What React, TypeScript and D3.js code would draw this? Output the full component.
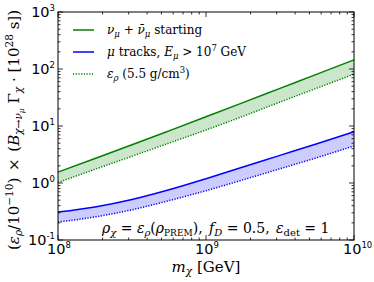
import React from "react";
import * as d3 from "d3";

const masses = [1e8, 1.778e8, 3.162e8, 5.623e8, 1e9, 1.778e9, 3.162e9, 5.623e9, 1e10];
const greenSolid = [1.55, 2.69, 4.68, 8.22, 14.5, 25.7, 45.7, 81.3, 144.5];
const greenDotted = [1.02, 1.74, 2.95, 5.01, 8.51, 14.8, 26.3, 46.2, 81.3];
const blueSolid = [0.309, 0.38, 0.513, 0.759, 1.189, 1.905, 3.055, 4.898, 7.943];
const blueDotted = [0.2065, 0.254, 0.339, 0.49, 0.733, 1.135, 1.778, 2.786, 4.467];
const xTickExps = [8, 9, 10];
const yTickExps = [-1, 0, 1, 2, 3];

const W = 374, H = 282;
const L = 58, R = 354, T = 12, B = 240;
const SERIF = "DejaVu Serif";
const SANS = "DejaVu Sans";
const GREEN = "#008000";
const BLUE = "#0000ff";

export default function App() {
  const x = d3.scaleLog().domain([1e8, 1e10]).range([L, R]);
  const y = d3.scaleLog().domain([0.1, 1000]).range([B, T]);

  const line = (vals: number[]) =>
    d3.line<number>().x((_, i) => x(masses[i])).y((v) => y(v)).curve(d3.curveMonotoneX)(vals) || "";
  const area = (hi: number[], lo: number[]) =>
    d3
      .area<number>()
      .x((_, i) => x(masses[i]))
      .y0((_, i) => y(lo[i]))
      .y1((v) => y(v))
      .curve(d3.curveMonotoneX)(hi) || "";

  const xMinor: number[] = [];
  for (let e = 8; e < 10; e++) for (let k = 2; k <= 9; k++) xMinor.push(k * Math.pow(10, e));
  const yMinor: number[] = [];
  for (let e = -1; e < 3; e++) for (let k = 2; k <= 9; k++) yMinor.push(k * Math.pow(10, e));

  const maj = 5, mnr = 2.5;

  return (
    <svg width={W} height={H} style={{ position: "absolute", left: 0, top: 0, background: "#fff" }}>
      <rect x={0} y={0} width={W} height={H} fill="#fff" />
      {/* bands */}
      <path d={area(greenSolid, greenDotted)} fill="rgba(0,128,0,0.2)" stroke="none" />
      <path d={area(blueSolid, blueDotted)} fill="rgba(0,0,255,0.2)" stroke="none" />
      <path d={line(greenSolid)} fill="none" stroke={GREEN} strokeWidth={1.5} />
      <path d={line(greenDotted)} fill="none" stroke={GREEN} strokeWidth={1.5} strokeDasharray="1.2,1.5" />
      <path d={line(blueSolid)} fill="none" stroke={BLUE} strokeWidth={1.5} />
      <path d={line(blueDotted)} fill="none" stroke={BLUE} strokeWidth={1.5} strokeDasharray="1.2,1.5" />

      {/* ticks */}
      <g stroke="#000" strokeWidth={0.8}>
        {xTickExps.map((e) => {
          const xx = x(Math.pow(10, e));
          return (
            <g key={"xt" + e}>
              <line x1={xx} x2={xx} y1={B} y2={B - maj} />
              <line x1={xx} x2={xx} y1={T} y2={T + maj} />
            </g>
          );
        })}
        {xMinor.map((v) => (
          <g key={"xm" + v}>
            <line x1={x(v)} x2={x(v)} y1={B} y2={B - mnr} />
            <line x1={x(v)} x2={x(v)} y1={T} y2={T + mnr} />
          </g>
        ))}
        {yTickExps.map((e) => {
          const yy = y(Math.pow(10, e));
          return (
            <g key={"yt" + e}>
              <line x1={L} x2={L + maj} y1={yy} y2={yy} />
              <line x1={R} x2={R - maj} y1={yy} y2={yy} />
            </g>
          );
        })}
        {yMinor.map((v) => (
          <g key={"ym" + v}>
            <line x1={L} x2={L + mnr} y1={y(v)} y2={y(v)} />
            <line x1={R} x2={R - mnr} y1={y(v)} y2={y(v)} />
          </g>
        ))}
      </g>
      <rect x={L} y={T} width={R - L} height={B - T} fill="none" stroke="#000" strokeWidth={1} />

      {/* tick labels */}
      <g fontFamily={SANS} fill="#000">
        {xTickExps.map((e) => (
          <text key={"xl" + e} x={x(Math.pow(10, e)) - 11} y={B + 14} fontSize={14.5}>
            10<tspan fontSize={8.5} dy={-6}>{e}</tspan>
          </text>
        ))}
        {yTickExps.map((e) => (
          <text key={"yl" + e} x={L - 3} y={y(Math.pow(10, e)) + 5} fontSize={14.5} textAnchor="end">
            10<tspan fontSize={8.5} dy={-6}>{e < 0 ? "-" + Math.abs(e) : e}</tspan>
          </text>
        ))}
      </g>

      {/* axis labels */}
      <text x={x(1e9)} y={272} fontFamily={SERIF} fontSize={15} textAnchor="middle">
        <tspan fontStyle="italic">m</tspan>
        <tspan fontStyle="italic" fontSize={10.5} dy={3}>χ</tspan>
        <tspan dy={-3}> [GeV]</tspan>
      </text>
      <text
        transform={`translate(19, ${(T + B) / 2 + 4}) rotate(-90)`}
        fontFamily={SERIF}
        fontSize={15}
        textAnchor="middle"
      >
        (<tspan fontStyle="italic">ε</tspan>
        <tspan fontStyle="italic" fontSize={10.5} dy={3}>ρ</tspan>
        <tspan dy={-3}>/10</tspan>
        <tspan fontSize={10.5} dy={-6}>−10</tspan>
        <tspan dy={6}>) </tspan>
        <tspan dx={2}>×</tspan>
        <tspan dx={2}> (</tspan>
        <tspan fontStyle="italic">B</tspan>
        <tspan fontStyle="italic" fontSize={10.5} dy={3}>χ→ν</tspan>
        <tspan fontStyle="italic" fontSize={7.5} dy={2}>μ</tspan>
        <tspan dy={-5}> Γ</tspan>
        <tspan fontStyle="italic" fontSize={10.5} dy={3}>χ</tspan>
        <tspan dy={-3}> · [10</tspan>
        <tspan fontSize={10.5} dy={-6}>28</tspan>
        <tspan dy={6}> s])</tspan>
      </text>

      {/* legend */}
      <g fontFamily={SERIF} fontSize={12}>
        <line x1={73} x2={94} y1={30} y2={30} stroke={GREEN} strokeWidth={1.5} />
        <text x={107} y={34}>
          <tspan fontStyle="italic">ν</tspan>
          <tspan fontStyle="italic" fontSize={8.5} dy={3}>μ</tspan>
          <tspan dy={-3}> + </tspan>
          <tspan fontStyle="italic">ν̄</tspan>
          <tspan fontStyle="italic" fontSize={8.5} dy={3}>μ</tspan>
          <tspan dy={-3}> starting</tspan>
        </text>
        <line x1={73} x2={94} y1={52} y2={52} stroke={BLUE} strokeWidth={1.5} />
        <text x={107} y={56}>
          <tspan fontStyle="italic">μ</tspan>
          <tspan> tracks, </tspan>
          <tspan fontStyle="italic">E</tspan>
          <tspan fontStyle="italic" fontSize={8.5} dy={3}>μ</tspan>
          <tspan dy={-3}> &gt; 10</tspan>
          <tspan fontSize={8.5} dy={-5}>7</tspan>
          <tspan dy={5}> GeV</tspan>
        </text>
        <line x1={73} x2={94} y1={74} y2={74} stroke={GREEN} strokeWidth={1.5} strokeDasharray="1.2,1.5" />
        <text x={107} y={78}>
          <tspan fontStyle="italic">ε</tspan>
          <tspan fontStyle="italic" fontSize={8.5} dy={3}>ρ</tspan>
          <tspan dy={-3}> (5.5 g/cm</tspan>
          <tspan fontSize={8.5} dy={-5}>3</tspan>
          <tspan dy={5}>)</tspan>
        </text>
      </g>

      {/* annotation */}
      <text x={102} y={233} fontFamily={SERIF} fontSize={14}>
        <tspan fontStyle="italic">ρ</tspan>
        <tspan fontStyle="italic" fontSize={10} dy={3}>χ</tspan>
        <tspan dy={-3}> = </tspan>
        <tspan fontStyle="italic">ε</tspan>
        <tspan fontStyle="italic" fontSize={10} dy={3}>ρ</tspan>
        <tspan dy={-3}>(</tspan>
        <tspan fontStyle="italic">ρ</tspan>
        <tspan fontSize={9} dy={3}>PREM</tspan>
        <tspan dy={-3}>), </tspan>
        <tspan fontStyle="italic" dx={2}>f</tspan>
        <tspan fontStyle="italic" fontSize={10} dy={3}>D</tspan>
        <tspan dy={-3}> = 0.5, </tspan>
        <tspan fontStyle="italic" dx={2}>ε</tspan>
        <tspan fontSize={10} dy={3}>det</tspan>
        <tspan dy={-3}> = 1</tspan>
      </text>
    </svg>
  );
}
